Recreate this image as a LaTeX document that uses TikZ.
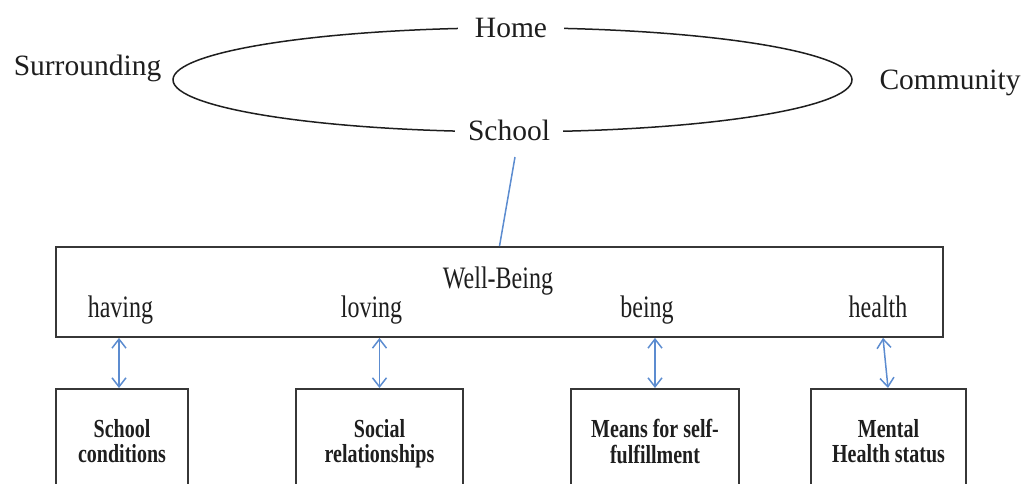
\documentclass[tikz,border=0pt]{standalone}
\usepackage{fontspec}
\usepackage{graphicx}
\setmainfont{Liberation Serif}
\usetikzlibrary{arrows.meta}
\definecolor{inkc}{RGB}{30,30,30}
\definecolor{boxc}{RGB}{55,55,55}
\definecolor{bluec}{RGB}{92,140,208}
\tikzset{
  bigtxt/.style={anchor=base, inner sep=0pt, font=\fontsize{29.5}{34}\selectfont, text=inkc},
  ringlbl/.style={anchor=base, inner ysep=0pt, fill=white, font=\fontsize{29.5}{34}\selectfont, text=inkc},
  midtxt/.style={anchor=base, inner sep=0pt, font=\fontsize{24}{28}\selectfont, text=inkc},
  outerbox/.style={draw=boxc, line width=1.8pt, minimum width=887pt, minimum height=90pt, inner sep=0pt},
  subbox/.style={draw=boxc, line width=1.8pt, anchor=north, minimum height=112pt, inner sep=0pt,
     font=\bfseries\fontsize{20}{19.2}\selectfont, text=inkc},
  biarrow/.style={draw=bluec, line width=1.5pt, {Straight Barb[length=9pt,width=14pt,line width=1.5pt]}-{Straight Barb[length=9pt,width=14pt,line width=1.5pt]}},
  blueline/.style={draw=bluec, line width=1.5pt}
}
\newcommand{\tallq}[1]{\scalebox{1}[1.3]{#1}}
\begin{document}
\begin{tikzpicture}[x=1pt,y=-1pt]
\useasboundingbox (0,0) rectangle (1032,483);
\clip (0,0) rectangle (1032,483);
% ring
\draw[inkc, line width=1.5pt] (512.5,79.8) ellipse [x radius=339.5pt, y radius=52pt];
\node[ringlbl, inner xsep=17pt] (home) at (511,37) {Home};
\node[ringlbl, inner xsep=13pt] (school) at (509,140) {School};
\node[bigtxt] (surr) at (87.5,75) {Surrounding};
\node[bigtxt] (comm) at (950,89) {Community};
% well-being box
\node[outerbox] (wb) at (499.5,292) {};
\node[midtxt] (wbl) at (498,288) {\tallq{Well-Being}};
\node[midtxt] (hav) at (120.5,317) {\tallq{having}};
\node[midtxt] (lov) at (371.5,317) {\tallq{loving}};
\node[midtxt] (bei) at (647,317) {\tallq{being}};
\node[midtxt] (hea) at (878,317) {\tallq{health}};
\coordinate (sch) at (515,157);
\draw[blueline] (sch) -- (wb.north);
% sub boxes
\node[subbox, minimum width=132pt] (b1) at (122,388) {\tallq{\begin{tabular}{@{}c@{}}School\\conditions\end{tabular}}};
\node[subbox, minimum width=167pt] (b2) at (379.5,388) {\tallq{\begin{tabular}{@{}c@{}}Social\\relationships\end{tabular}}};
\node[subbox, minimum width=168pt] (b3) at (655,388) {\tallq{\begin{tabular}{@{}c@{}}Means for self-\\fulfillment\end{tabular}}};
\node[subbox, minimum width=155pt] (b4) at (888.5,388) {\tallq{\begin{tabular}{@{}c@{}}Mental\\Health status\end{tabular}}};
% arrows
\draw[biarrow] ([xshift=-3pt]wb.south -| b1.north) -- ([xshift=-3pt]b1.north);
\draw[biarrow] (wb.south -| b2.north) -- (b2.north);
\draw[biarrow] (wb.south -| b3.north) -- (b3.north);
\draw[biarrow] ([xshift=-5.5pt]wb.south -| b4.north) -- ([xshift=-0.5pt]b4.north);
\end{tikzpicture}
\end{document}
